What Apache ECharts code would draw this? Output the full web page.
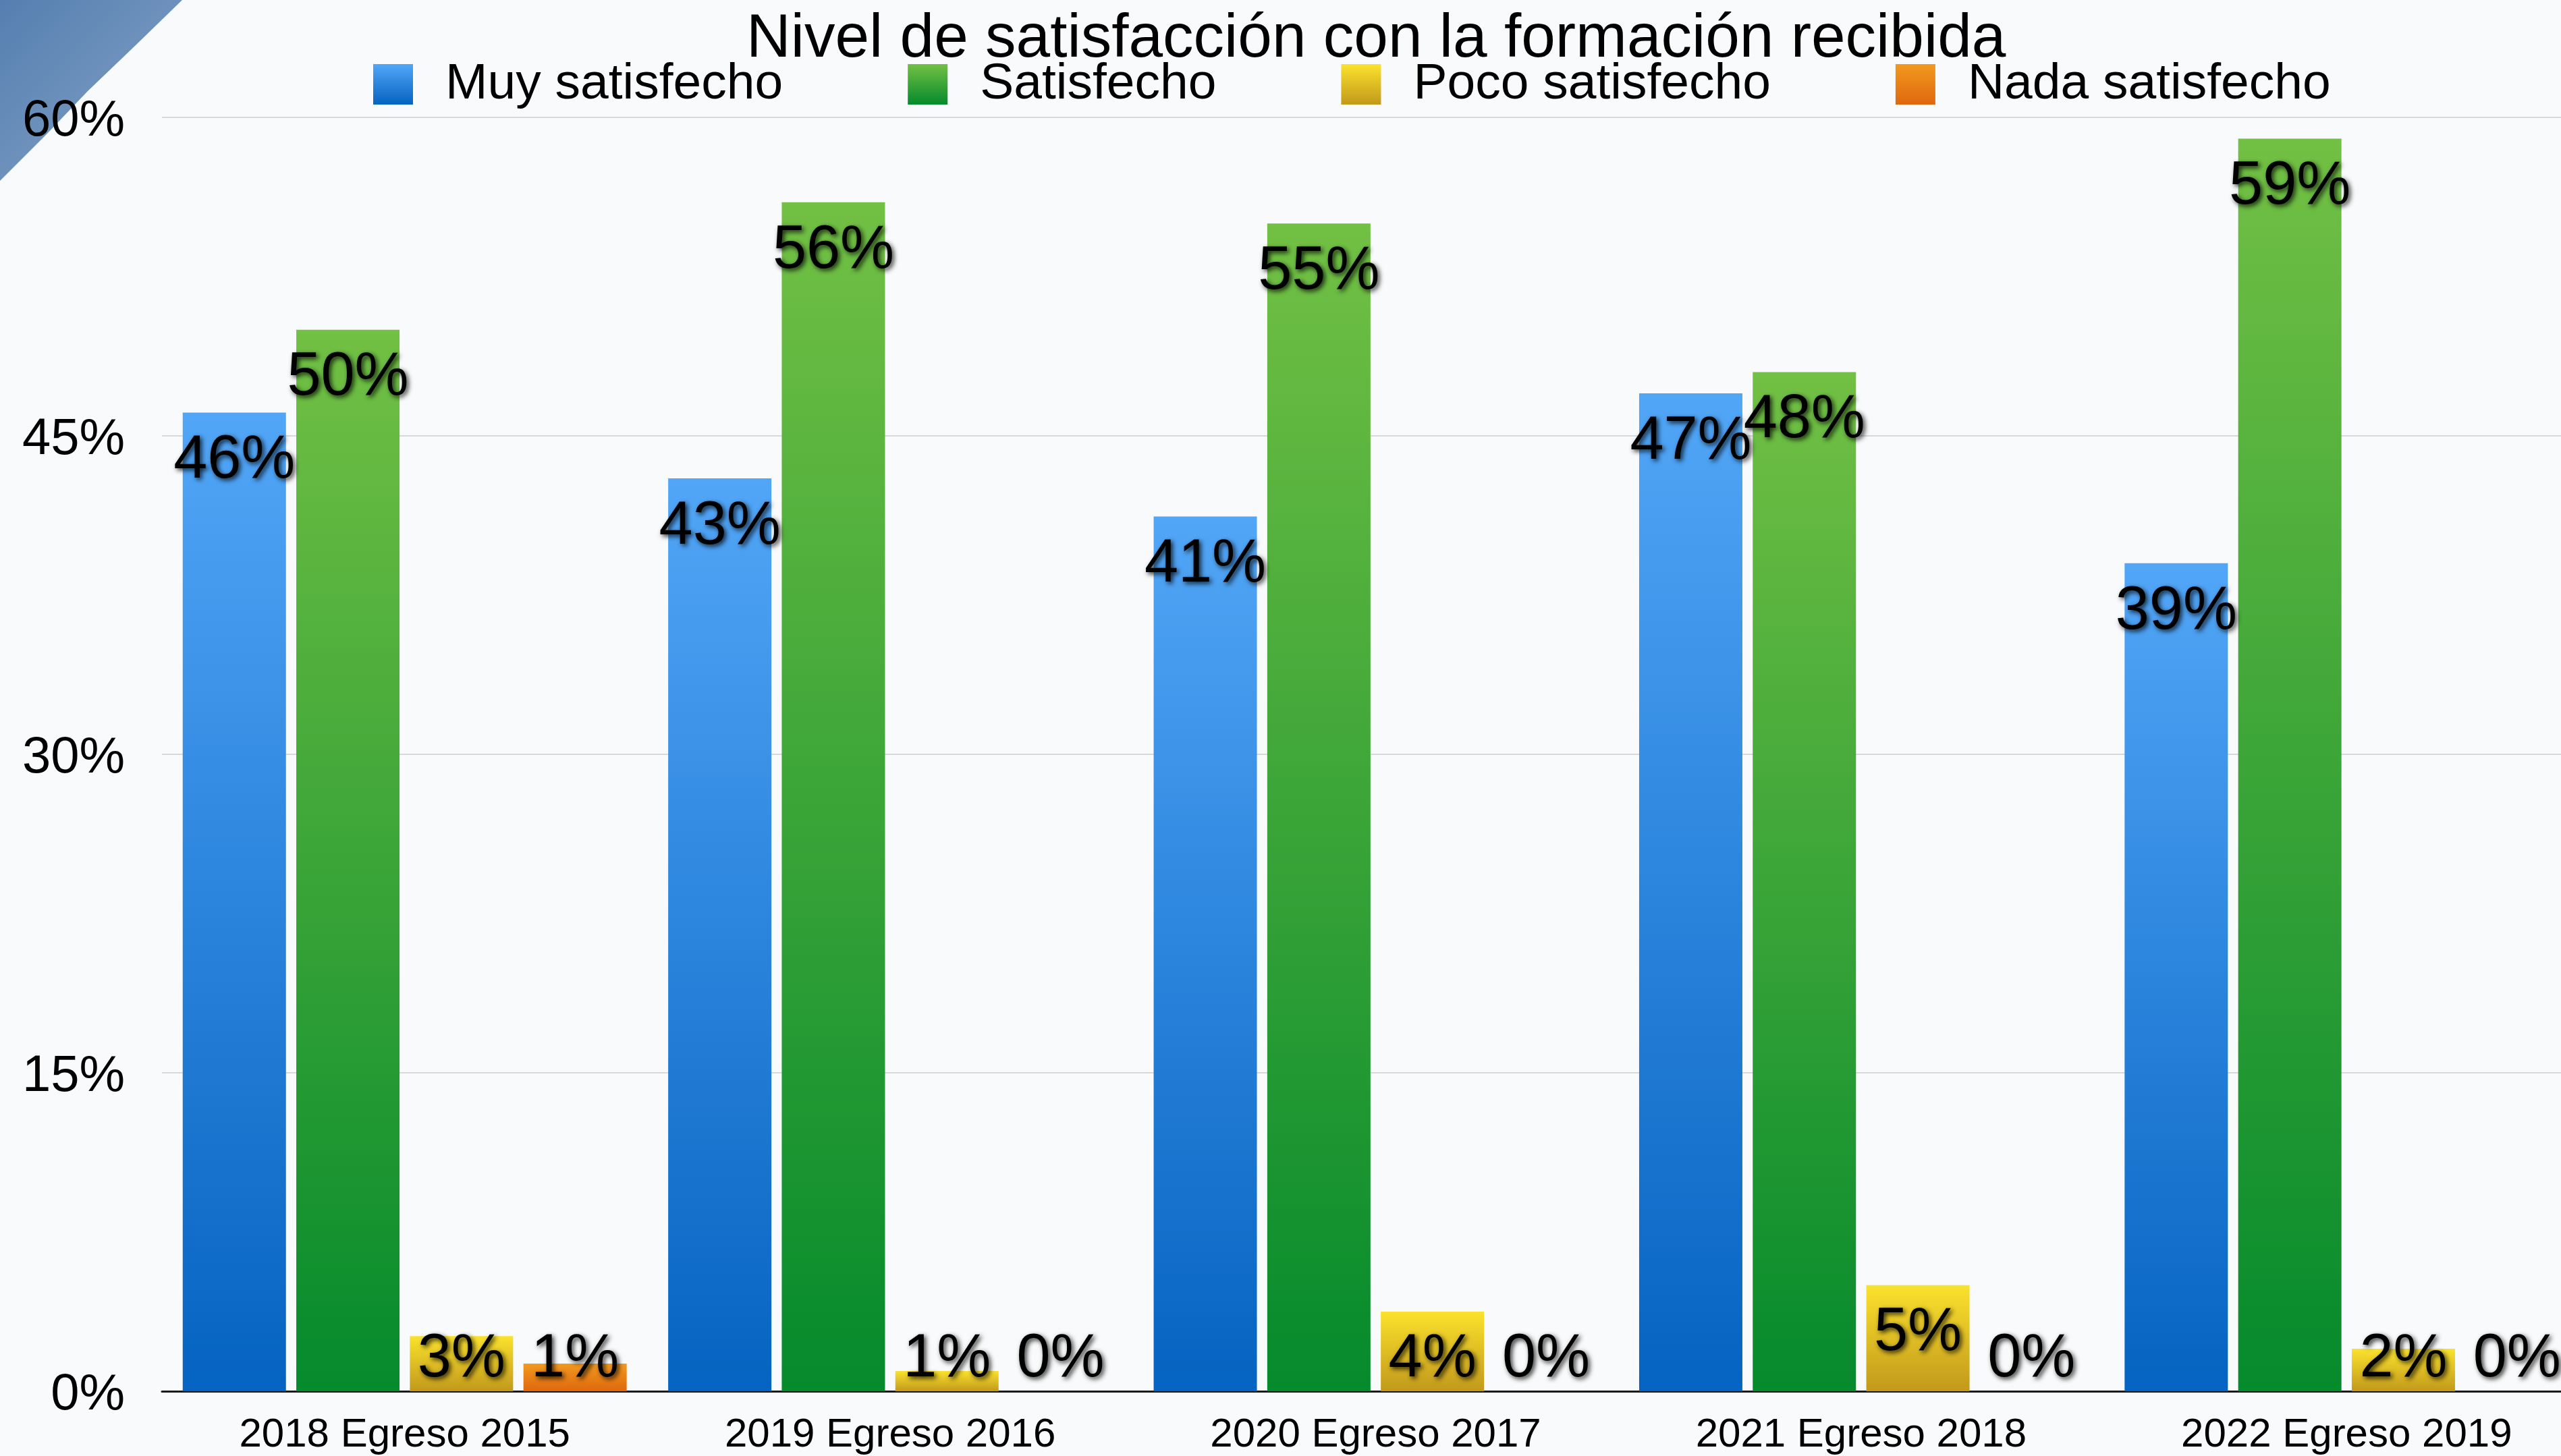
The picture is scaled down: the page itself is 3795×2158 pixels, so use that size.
<!DOCTYPE html>
<html>
<head>
<meta charset="utf-8">
<script src="https://cdn.jsdelivr.net/npm/echarts@6/dist/echarts.min.js"></script>
<style>
html,body{margin:0;padding:0;background:#f9fafb;}
#chart{width:3795px;height:2158px;}
</style>
</head>
<body>
<div id="chart"></div>
<script>
const categories = ['2018 Egreso 2015', '2019 Egreso 2016', '2020 Egreso 2017', '2021 Egreso 2018', '2022 Egreso 2019'];
const seriesNames = ['Muy satisfecho', 'Satisfecho', 'Poco satisfecho', 'Nada satisfecho'];
const muySatisfecho = [46.1, 43.0, 41.2, 47.0, 39.0];
const satisfecho = [50.0, 56.0, 55.0, 48.0, 59.0];
const pocoSatisfecho = [2.6, 0.95, 3.75, 5.0, 2.0];
const nadaSatisfecho = [1.3, 0, 0, 0, 0];
const yTicks = [0, 15, 30, 45, 60];

const gradients = [
  ['#52a6f7', '#0563c1'],
  ['#72c044', '#058a2c'],
  ['#fbe22d', '#c2991b'],
  ['#f29a1f', '#df670e']
];

const FONT = 'Liberation Sans, Arial, Helvetica, sans-serif';
const chart = echarts.init(document.getElementById('chart'), null, {renderer: 'canvas'});

const labelBase = {
  show: true,
  fontFamily: FONT,
  fontSize: 90,
  color: '#000',
  textShadowColor: 'rgba(0,0,0,0.8)',
  textShadowBlur: 7,
  textShadowOffsetX: 3,
  textShadowOffsetY: 3,
  formatter: p => Math.round(p.value) + '%'
};

function buildData(arr) {
  return arr.map(v => ({
    value: v,
    label: v >= 3.8 ? {position: 'insideTop', distance: 27} : {position: 'insideBottom', distance: 2}
  }));
}

const allData = [muySatisfecho, satisfecho, pocoSatisfecho, nadaSatisfecho];

const series = allData.map((arr, i) => ({
  name: seriesNames[i],
  type: 'bar',
  barWidth: 153,
  barGap: '10%',
  data: buildData(arr),
  itemStyle: {
    color: new echarts.graphic.LinearGradient(0, 0, 0, 1, [
      {offset: 0, color: gradients[i][0]},
      {offset: 1, color: gradients[i][1]}
    ])
  },
  label: labelBase,
  emphasis: {disabled: true},
  animation: false
}));

const option = {
  backgroundColor: '#f9fafb',
  animation: false,
  textStyle: {fontFamily: FONT},
  graphic: [
    {
      type: 'polygon',
      z: -10,
      silent: true,
      shape: {points: [[0, 0], [270, 0], [200, 68], [130, 135], [68, 200], [0, 268]]},
      style: {
        fill: new echarts.graphic.LinearGradient(0, 0, 1, 1, [
          {offset: 0, color: '#557fb0'},
          {offset: 1, color: '#86a3c7'}
        ])
      }
    }
  ],
  title: {
    text: 'Nivel de satisfacción con la formación recibida',
    left: 1106,
    top: 13,
    padding: 0,
    textStyle: {
      fontFamily: FONT,
      fontSize: 91,
      fontWeight: 'normal',
      color: '#000'
    }
  },
  legend: {
    data: seriesNames,
    left: 553,
    top: 87.5,
    padding: 0,
    itemWidth: 59,
    itemHeight: 60,
    itemGap: 185,
    icon: 'rect',
    textStyle: {
      fontFamily: FONT,
      fontSize: 75,
      color: '#000',
      padding: [0, 0, -10, 43]
    }
  },
  grid: {
    left: 240,
    top: 174,
    width: 3597,
    height: 1888,
    containLabel: false,
    outerBoundsMode: 'none'
  },
  xAxis: {
    type: 'category',
    data: categories,
    boundaryGap: true,
    axisLine: {show: true, lineStyle: {color: '#1a1a1a', width: 3}},
    axisTick: {show: false},
    axisLabel: {
      fontFamily: FONT,
      fontSize: 60,
      color: '#000',
      margin: 35
    },
    splitLine: {show: false}
  },
  yAxis: {
    type: 'value',
    min: yTicks[0],
    max: yTicks[yTicks.length - 1],
    interval: yTicks[1] - yTicks[0],
    axisLine: {show: false},
    axisTick: {show: false},
    axisLabel: {
      fontFamily: FONT,
      fontSize: 76,
      color: '#000',
      margin: 55,
      verticalAlign: 'top',
      lineHeight: 12,
      formatter: v => v + '%'
    },
    splitLine: {show: true, lineStyle: {color: '#cccccc', width: 1.5}}
  },
  series: series
};

chart.setOption(option);
</script>
</body>
</html>
